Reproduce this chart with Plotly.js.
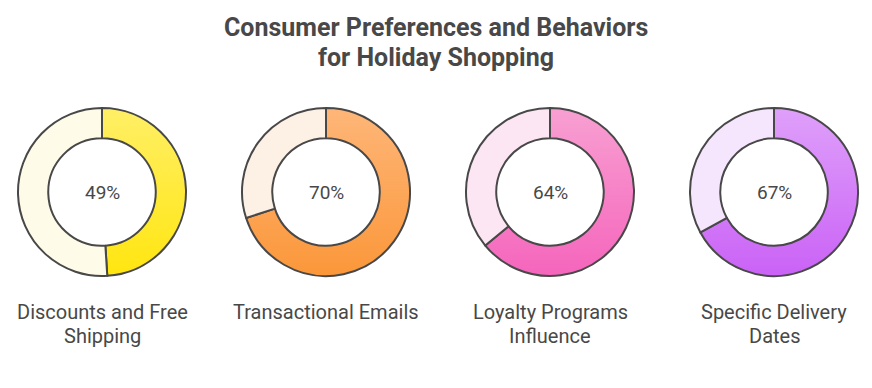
<!DOCTYPE html>
<html><head><meta charset="utf-8">
<script src="https://cdn.plot.ly/plotly-3.0.1.min.js"></script>
<style>html,body{margin:0;padding:0;background:#fff;}#chart{width:872px;height:388px;}</style>
</head><body><div id="chart"></div>
<script>
const titleLines = ["Consumer Preferences and Behaviors", "for Holiday Shopping"];
const categories = [["Discounts and Free", "Shipping"], ["Transactional Emails"], ["Loyalty Programs", "Influence"], ["Specific Delivery", "Dates"]];
const percentages = [49, 70, 64, 67];
const mainColors = ["#FFEB3B", "#FCA656", "#F682C6", "#D57EF8"];
const gradTop = ["#FFEF66", "#FEB678", "#F8A0D2", "#DFA0FA"];
const gradBottom = ["#FFE610", "#FB973A", "#F565BC", "#CA62F6"];
const restColors = ["#FEFBE8", "#FDF1E6", "#FCE6F3", "#F6E6FD"];

const W = 872, H = 388;
const centersX = [102, 326, 550, 774];
const centerY = 192, R = 84;
const txt = '#484848';

const traces = [], annotations = [];
percentages.forEach((p, i) => {
  const cx = centersX[i];
  traces.push({
    type: 'pie',
    values: [p, 100 - p],
    labels: ['Yes', 'No'],
    sort: false,
    direction: 'clockwise',
    rotation: 0,
    hole: 0.64,
    textinfo: 'none',
    hoverinfo: 'none',
    showlegend: false,
    marker: {colors: [mainColors[i], restColors[i]], line: {color: txt, width: 2}},
    domain: {x: [(cx - R) / W, (cx + R) / W], y: [1 - (centerY + R) / H, 1 - (centerY - R) / H]}
  });
  annotations.push({
    text: p + '%', x: cx / W, y: 1 - centerY / H, xref: 'paper', yref: 'paper',
    showarrow: false, font: {family: 'Roboto', size: 19, color: txt}, xanchor: 'center', yanchor: 'middle'
  });
  categories[i].forEach((line, k) => {
    annotations.push({
      text: line, x: cx / W, y: 1 - (312 + 24 * k) / H, xref: 'paper', yref: 'paper',
      showarrow: false, font: {family: 'Roboto', size: 20, color: txt}, xanchor: 'center', yanchor: 'middle'
    });
  });
});
titleLines.forEach((line, k) => {
  annotations.push({
    text: '<b>' + line + '</b>', x: 0.5, y: 1 - (28 + 29 * k) / H,
    xref: 'paper', yref: 'paper', showarrow: false, xanchor: 'center', yanchor: 'middle',
    font: {family: 'Roboto', size: 25, color: txt}
  });
});

const layout = {
  width: W, height: H, margin: {l: 0, r: 0, t: 0, b: 0},
  paper_bgcolor: '#fff', plot_bgcolor: '#fff', annotations: annotations
};

Plotly.newPlot('chart', traces, layout, {displayModeBar: false, staticPlot: true}).then(() => {
  const svg = document.querySelector('#chart svg.main-svg');
  const ns = 'http://www.w3.org/2000/svg';
  let defs = svg.querySelector('defs');
  if (!defs) { defs = document.createElementNS(ns, 'defs'); svg.insertBefore(defs, svg.firstChild); }
  gradTop.forEach((c, i) => {
    const lg = document.createElementNS(ns, 'linearGradient');
    lg.setAttribute('id', 'donutGrad' + i);
    lg.setAttribute('x1', '0'); lg.setAttribute('y1', '0'); lg.setAttribute('x2', '0'); lg.setAttribute('y2', '1');
    const s1 = document.createElementNS(ns, 'stop'); s1.setAttribute('offset', '0'); s1.setAttribute('stop-color', c);
    const s2 = document.createElementNS(ns, 'stop'); s2.setAttribute('offset', '1'); s2.setAttribute('stop-color', gradBottom[i]);
    lg.appendChild(s1); lg.appendChild(s2); defs.appendChild(lg);
  });
  const pies = document.querySelectorAll('#chart g.trace');
  pies.forEach((g, i) => {
    const first = g.querySelector('g.slice path.surface');
    if (first) first.style.fill = 'url(#donutGrad' + i + ')';
  });
});
</script></body></html>
